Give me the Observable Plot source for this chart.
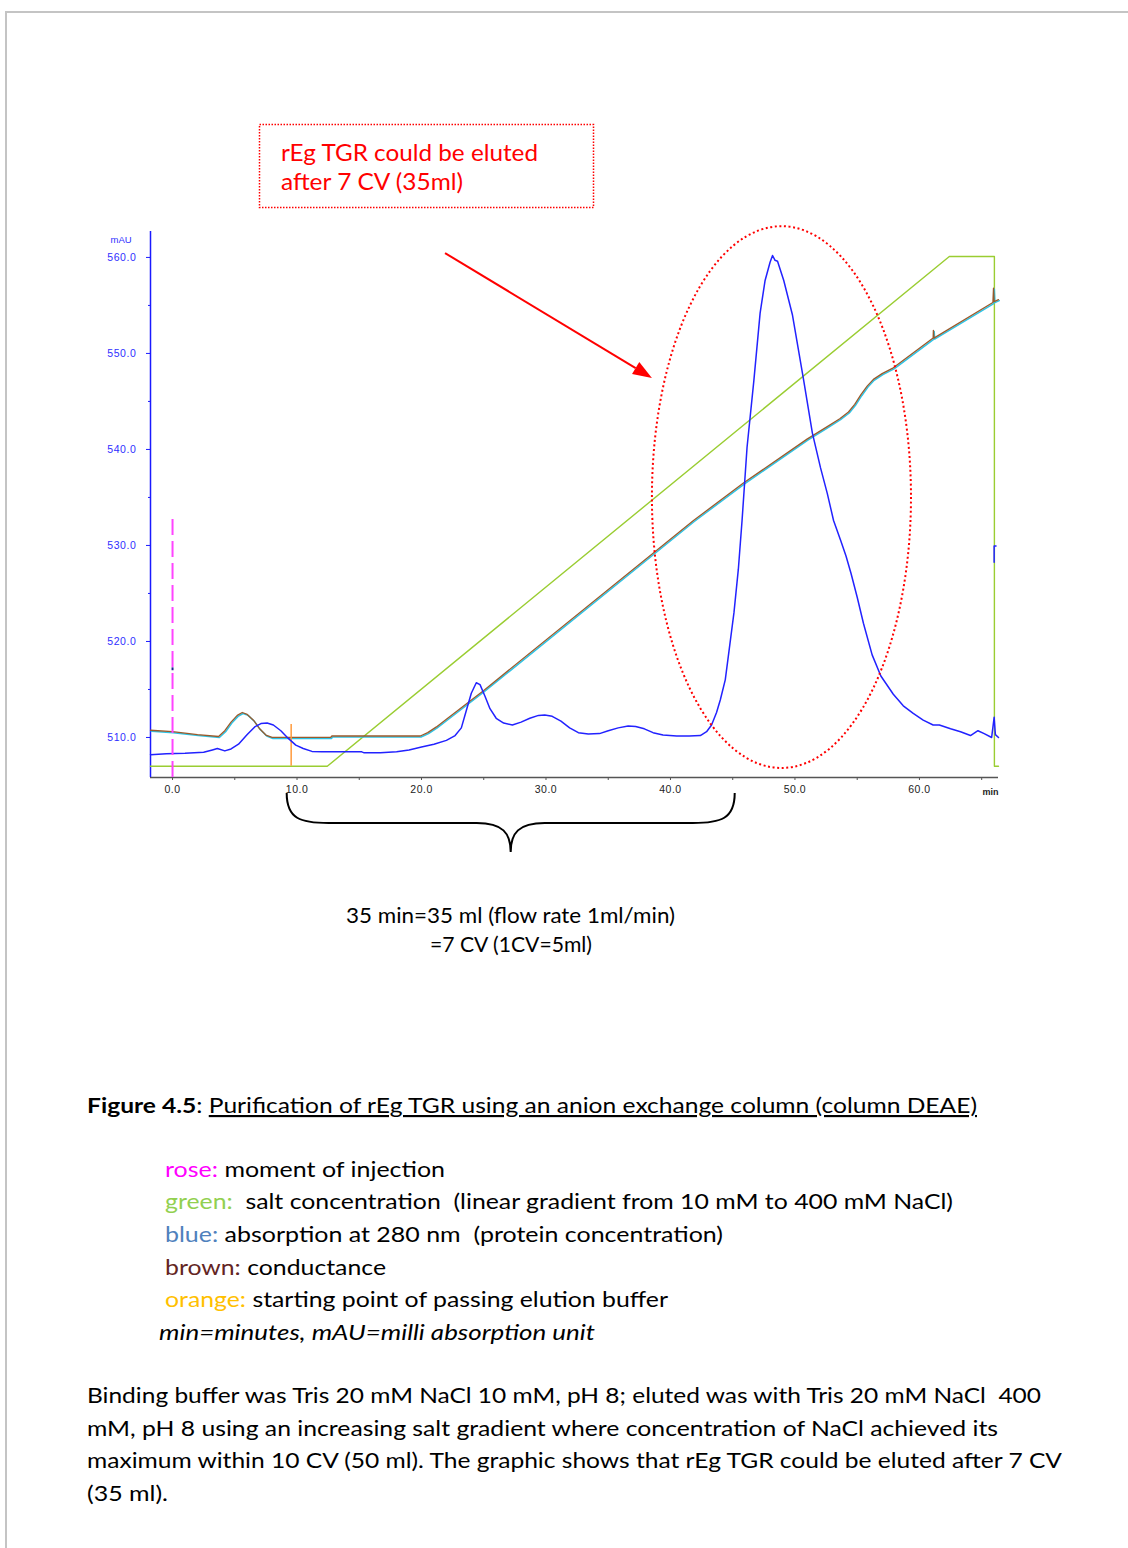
<!DOCTYPE html>
<html>
<head>
<meta charset="utf-8">
<script src="https://cdn.jsdelivr.net/npm/d3@7"></script>
<script src="https://cdn.jsdelivr.net/npm/@observablehq/plot@0.6"></script>
<style>
  html, body { margin: 0; padding: 0; background: #fff; }
  #page { position: relative; width: 1128px; height: 1548px; overflow: hidden; background: #fff; }
  #sheet { position: absolute; left: 5px; top: 11px; width: 1140px; height: 1560px;
           border-top: 2px solid #c4c4c4; border-left: 2px solid #c4c4c4; }
  #chart { position: absolute; left: 0; top: 0; width: 1128px; }
  #doc { position: absolute; left: 0; top: 0; }
  #doc text { font-family: Lato, "Open Sans", sans-serif; white-space: pre; }
  #chart [aria-label="y-axis tick label"] text { letter-spacing: 0.6px; }
  #chart [aria-label="x-axis tick label"] text { letter-spacing: 0.5px; }
</style>
</head>
<body>
<div id="page">
  <div id="sheet"></div>
  <div id="chart"></div>
  <svg id="doc" width="1128" height="1548"></svg>
</div>
<script>
// ---- Chromatogram traces: [time (min), signal (mAU)] ----
const uvTrace = [
  [-1.77,508.2],[-0.5,508.3],[1.0,508.35],[2.5,508.45],[3.2,508.7],[3.6,508.85],[4.2,508.6],[4.7,508.8],
  [5.3,509.3],[6.0,510.3],[6.6,511.1],[7.1,511.45],[7.6,511.5],[8.1,511.3],[8.7,510.7],[9.3,509.9],
  [9.9,509.2],[10.5,508.85],[11.2,508.55],[12.0,508.5],[13.5,508.5],[15.2,508.5],[15.4,508.4],[16.7,508.4],
  [18.0,508.5],[19.0,508.7],[20.0,509.0],[21.0,509.3],[22.0,509.7],[22.7,510.2],[23.2,511.0],[23.6,512.8],
  [24.0,514.6],[24.4,515.7],[24.7,515.5],[25.1,514.3],[25.5,513.0],[26.0,512.0],[26.6,511.5],[27.3,511.3],
  [28.0,511.6],[28.7,512.0],[29.4,512.3],[29.9,512.35],[30.5,512.2],[31.2,511.7],[31.9,511.0],[32.6,510.5],
  [33.4,510.35],[34.3,510.4],[35.0,510.7],[35.8,511.0],[36.6,511.2],[37.2,511.15],[37.9,510.9],[38.6,510.5],
  [39.4,510.25],[40.5,510.15],[41.5,510.15],[42.4,510.2],[42.9,510.6],[43.3,511.3],[43.7,512.6],[44.0,513.9],
  [44.4,516.0],[44.7,519.0],[45.1,523.0],[45.45,527.5],[45.75,532.6],[46.15,540.2],[46.7,547.2],[47.2,554.2],
  [47.6,557.6],[48.0,559.5],[48.2,560.2],[48.4,559.7],[48.6,559.6],[49.1,557.6],[49.8,554.0],[50.7,547.2],
  [51.4,541.7],[52.05,538.1],[52.6,535.4],[53.1,532.6],[53.7,530.4],[54.1,528.9],[54.5,527.1],[55.0,524.6],
  [55.5,521.9],[56.2,518.6],[56.9,516.4],[57.9,514.5],[58.7,513.3],[59.5,512.5],[60.3,511.8],[61.1,511.3],
  [61.6,511.3],[62.5,510.9],[63.3,510.6],[64.1,510.2],[64.7,510.7],[65.2,510.4],[65.8,510.0],[66.0,512.1],
  [66.1,510.3],[66.35,510.0]
];
const uvEndMark = [[66.15,529.95],[66.0,529.95],[66.0,528.25]];

const conductivityTrace = [
  [-1.77,510.75],[0,510.6],[2,510.3],[3.7,510.1],[4.2,510.7],[4.7,511.6],[5.2,512.3],[5.6,512.6],
  [6.0,512.4],[6.5,511.8],[7.0,510.9],[7.5,510.25],[8.0,510.0],[12.7,510.0],[12.8,510.15],[19.9,510.15],
  [20.5,510.5],[21.2,511.1],[22.0,511.9],[25.0,514.9],[41.85,532.6],[45.86,536.5],[51.0,541.1],
  [52.5,542.3],[53.6,543.2],[54.3,543.9],[54.8,544.7],[55.3,545.7],[55.8,546.6],[56.3,547.3],[57.0,547.9],
  [57.9,548.5],[61.1,551.6],[61.12,552.4],[61.16,551.6],[65.9,555.3],[65.95,556.8],[66.0,555.4],[66.35,555.6]
];

const gradientTrace = [
  [-1.77,507.0],[12.43,507.0],[62.4,560.1],[66.02,560.1],[66.02,507.0],[66.35,507.0]
];

// event markers
const injection = [{t: 0, top: 532.7}];
const elutionStart = [{t: 9.53, top: 511.35, bottom: 507.0}];
const injectionTick = [{t: 0, top: 517.25, bottom: 516.95}];

// axes
const xDomain = [-1.77, 66.35];
const yDomain = [505.83, 562.7];
const xMajorTicks = [0, 10, 20, 30, 40, 50, 60];
const xMinorTicks = [5, 15, 25, 35, 45, 55, 65];
const yMajorTicks = [510, 520, 530, 540, 550, 560];
const yMinorTicks = [515, 525, 535, 545, 555];

// annotation geometry in data units
const eluteWindow = {t0: 38.55, t1: 59.36, v0: 506.77, v1: 563.2};
const pointer = {t0: 21.93, v0: 560.4, t1: 38.55, v1: 547.4};
const braceSpan = {t0: 9.21, t1: 45.2};

const BLUE = "#1a1aff";
const fmt = d => d.toFixed(1);

const chart = Plot.plot({
  width: 1128,
  height: 870,
  marginTop: 231, marginRight: 130, marginBottom: 93, marginLeft: 150,
  style: {background: "transparent", fontFamily: "'Liberation Sans', Arial, sans-serif", overflow: "visible"},
  x: {domain: xDomain},
  y: {domain: yDomain},
  marks: [
    Plot.axisY(yMajorTicks, {tickSize: 4, tickPadding: 10, tickFormat: fmt, stroke: BLUE, fill: "#2f2fff", fontSize: 10.5, label: null}),
    Plot.axisY(yMinorTicks, {tickSize: 2, tickFormat: () => "", stroke: BLUE, label: null}),
    Plot.axisX(xMajorTicks, {tickSize: 3, tickPadding: 5, tickFormat: fmt, stroke: "#555", fill: "#222", fontSize: 10.5, label: null}),
    Plot.axisX(xMinorTicks, {tickSize: 3, tickFormat: () => "", stroke: "#555", label: null}),
    Plot.ruleY([yDomain[0]], {stroke: "#555", strokeWidth: 1.5}),
    Plot.ruleX([xDomain[0]], {stroke: BLUE, strokeWidth: 1.5}),
    Plot.text(["mAU"], {frameAnchor: "top-left", dx: -40, dy: 5, fill: "#2f2fff", fontSize: 9.5}),
    Plot.text(["min"], {frameAnchor: "bottom-right", dx: 0, dy: 17, fill: "#222", fontSize: 9, fontWeight: "bold"}),

    Plot.line(gradientTrace, {stroke: "#9acd32", strokeWidth: 1.4}),
    Plot.line(conductivityTrace, {stroke: "#2ec4e6", strokeWidth: 1.5, dx: 0.8, dy: 1}),
    Plot.line(conductivityTrace, {stroke: "#9b5a2b", strokeWidth: 1.3}),
    Plot.ruleX(elutionStart, {x: "t", y1: "top", y2: "bottom", stroke: "#ff9a3c", strokeWidth: 1.5}),
    Plot.line(uvTrace, {stroke: "#2222ff", strokeWidth: 1.5}),
    Plot.line(uvEndMark, {stroke: "#2222ff", strokeWidth: 1.5}),
    Plot.ruleX(injection, {x: "t", y1: "top", y2: yDomain[0], stroke: "#ff44ff", strokeWidth: 2, strokeDasharray: "16,6"}),
    Plot.ruleX(injectionTick, {x: "t", y1: "top", y2: "bottom", stroke: "#202090", strokeWidth: 2})
  ]
});
document.getElementById("chart").append(chart);

// ---- annotations drawn with the chart's own scales ----
const X = v => chart.scale("x").apply(v);
const Y = v => chart.scale("y").apply(v);
const svg = d3.select(chart);

// dotted ellipse round the main elution peak
svg.append("ellipse")
  .attr("cx", (X(eluteWindow.t0) + X(eluteWindow.t1)) / 2)
  .attr("cy", (Y(eluteWindow.v0) + Y(eluteWindow.v1)) / 2)
  .attr("rx", (X(eluteWindow.t1) - X(eluteWindow.t0)) / 2)
  .attr("ry", (Y(eluteWindow.v0) - Y(eluteWindow.v1)) / 2)
  .attr("fill", "none").attr("stroke", "#ff0000").attr("stroke-width", 2)
  .attr("stroke-dasharray", "2,2.6");

// arrow from the note towards the ellipse
{
  const x0 = X(pointer.t0), y0 = Y(pointer.v0), x1 = X(pointer.t1), y1 = Y(pointer.v1);
  const a = Math.atan2(y1 - y0, x1 - x0), L = 19, W = 7;
  const bx = x1 - L * Math.cos(a), by = y1 - L * Math.sin(a);
  svg.append("line").attr("x1", x0).attr("y1", y0).attr("x2", bx).attr("y2", by)
    .attr("stroke", "#ff0000").attr("stroke-width", 2);
  svg.append("path")
    .attr("d", `M${x1},${y1}L${bx + W * Math.sin(a)},${by - W * Math.cos(a)}L${bx - W * Math.sin(a)},${by + W * Math.cos(a)}Z`)
    .attr("fill", "#ff0000");
}

// curly brace under the time axis
{
  const xl = X(braceSpan.t0), xr = X(braceSpan.t1), xm = (xl + xr) / 2;
  const base = Y(yDomain[0]);
  const yt = base + 16, ym = base + 46, yp = base + 75;
  const d = `M${xl},${yt} C${xl},${ym - 4} ${xl + 14},${ym} ${xl + 42},${ym}
             L${xm - 34},${ym} C${xm - 8},${ym} ${xm},${ym + 10} ${xm},${yp}
             C${xm},${ym + 10} ${xm + 8},${ym} ${xm + 34},${ym}
             L${xr - 42},${ym} C${xr - 14},${ym} ${xr},${ym - 4} ${xr},${yt}`;
  svg.append("path").attr("d", d).attr("fill", "none").attr("stroke", "#000").attr("stroke-width", 2);
}

// ---- document text ----
const doc = d3.select("#doc");
function textLine(x, y, width, size, parts, extra = {}) {
  const t = doc.append("text").attr("x", x).attr("y", y).attr("font-size", size)
    .attr("textLength", width).attr("lengthAdjust", "spacingAndGlyphs").attr("fill", "#000");
  if (extra.italic) t.attr("font-style", "italic");
  for (const [str, style = {}] of parts) {
    const s = t.append("tspan").text(str);
    if (style.fill) s.attr("fill", style.fill);
    if (style.bold) s.attr("font-weight", "bold");
    if (style.underline) s.attr("text-decoration", "underline");
  }
  return t;
}

// note box
doc.append("rect").attr("x", 259.5).attr("y", 124.5).attr("width", 334).attr("height", 83)
  .attr("fill", "none").attr("stroke", "#ff0000").attr("stroke-width", 1.5).attr("stroke-dasharray", "1.5,1.5");
textLine(281, 160.5, 257, 22.5, [["rEg TGR could be eluted", {fill: "#ff0000"}]]);
textLine(281, 190, 182, 22.5, [["after 7 CV (35ml)", {fill: "#ff0000"}]]);

// brace label
textLine(346, 923, 329, 21.5, [["35 min=35 ml (flow rate 1ml/min)"]]);
textLine(430, 951.5, 162, 21.5, [["=7 CV (1CV=5ml)"]]);

// figure caption
textLine(87, 1113, 890, 21.5, [["Figure 4.5", {bold: true}], [": "], ["Purification of rEg TGR using an anion exchange column (column DEAE)", {underline: true}]]);

// colour key
textLine(165, 1176.7, 280, 21.5, [["rose:", {fill: "#ff00ff"}], [" moment of injection"]]);
textLine(165, 1209.3, 788, 21.5, [["green:", {fill: "#92d050"}], ["  salt concentration  (linear gradient from 10 mM to 400 mM NaCl)"]]);
textLine(165, 1242, 558, 21.5, [["blue:", {fill: "#4f81bd"}], [" absorption at 280 nm  (protein concentration)"]]);
textLine(165, 1274.5, 221, 21.5, [["brown:", {fill: "#632523"}], [" conductance"]]);
textLine(165, 1307, 503, 21.5, [["orange:", {fill: "#ffc000"}], [" starting point of passing elution buffer"]]);
textLine(159, 1339.7, 436, 21.5, [["min=minutes, mAU=milli absorption unit"]], {italic: true});

// description paragraph
textLine(87, 1403, 954, 21.5, [["Binding buffer was Tris 20 mM NaCl 10 mM, pH 8; eluted was with Tris 20 mM NaCl  400"]]);
textLine(87, 1435.5, 911, 21.5, [["mM, pH 8 using an increasing salt gradient where concentration of NaCl achieved its"]]);
textLine(87, 1468, 975, 21.5, [["maximum within 10 CV (50 ml). The graphic shows that rEg TGR could be eluted after 7 CV"]]);
textLine(87, 1500.5, 81, 21.5, [["(35 ml)."]]);
</script>
</body>
</html>
